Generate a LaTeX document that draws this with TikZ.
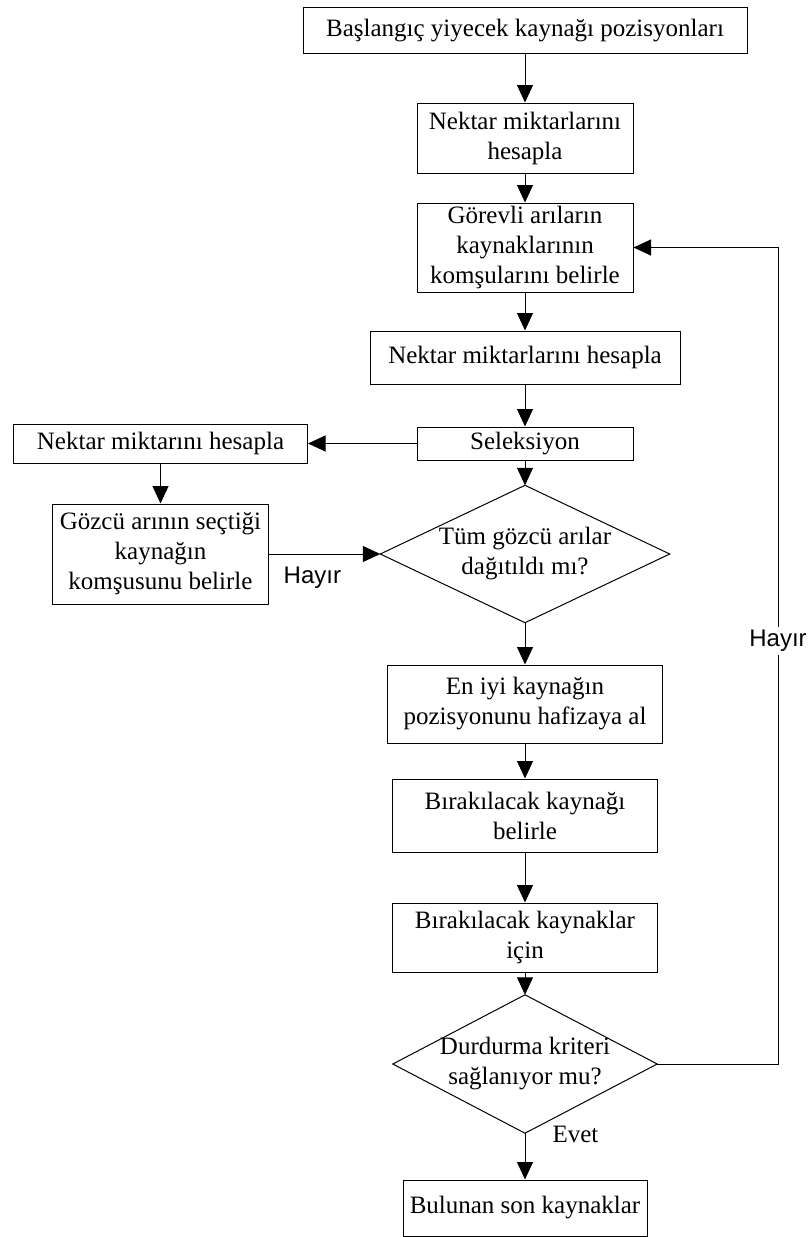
\documentclass[tikz,border=0pt]{standalone}
\usepackage{fontspec}
\setmainfont{Liberation Serif}
\newfontfamily\labelsans{Liberation Sans}
\usetikzlibrary{arrows.meta}
\begin{document}
\begin{tikzpicture}[x=1pt,y=-1pt,
  font=\fontsize{25}{30}\selectfont,
  box/.style={draw=black, line width=1pt, inner sep=0pt, align=center},
  dec/.style={inner sep=0pt, align=center},
  arr/.style={line width=1pt, -{Triangle[length=17.5pt,width=16pt]}},
  lbl/.style={font=\labelsans\fontsize{24}{28}\selectfont, inner sep=0pt}]
\useasboundingbox (0,0) rectangle (811,1237);

% boxes
\node[box, minimum width=444pt, minimum height=45.5pt] (start) at (525,30.3) {Başlangıç yiyecek kaynağı pozisyonları};
\node[box, minimum width=216pt, minimum height=70pt] (nek1) at (525,138) {Nektar miktarlarını\\hesapla};
\node[box, minimum width=216pt, minimum height=89pt] (gorev) at (525,247.5) {Görevli arıların\\kaynaklarının\\komşularını belirle};
\node[box, minimum width=310pt, minimum height=53pt] (nek2) at (525,357.5) {Nektar miktarlarını hesapla};
\node[box, minimum width=216pt, minimum height=33pt] (sel) at (525,443.5) {Seleksiyon};
\node[box, minimum width=294pt, minimum height=39pt] (nek3) at (160.5,443.5) {Nektar miktarını hesapla};
\node[box, minimum width=216pt, minimum height=100pt] (gozcu) at (160.5,554) {Gözcü arının seçtiği\\kaynağın\\komşusunu belirle};
\node[dec, minimum width=289pt, minimum height=137pt] (d1) at (525,554) {Tüm gözcü arılar\\dağıtıldı mı?};
\draw[line width=1pt] (d1.north) -- (d1.east) -- (d1.south) -- (d1.west) -- cycle;
\node[box, minimum width=275pt, minimum height=78pt] (eniyi) at (525,704) {En iyi kaynağın\\pozisyonunu hafizaya al};
\node[box, minimum width=265pt, minimum height=73pt] (birak1) at (525,815.5) {Bırakılacak kaynağı\\belirle};
\node[box, minimum width=265pt, minimum height=69pt] (birak2) at (525,937.5) {Bırakılacak kaynaklar\\için};
\node[dec, minimum width=264pt, minimum height=138pt] (d2) at (525,1064) {Durdurma kriteri\\sağlanıyor mu?};
\draw[line width=1pt] (d2.north) -- (d2.east) -- (d2.south) -- (d2.west) -- cycle;
\node[box, minimum width=244pt, minimum height=56pt] (final) at (525,1208) {Bulunan son kaynaklar};

% connectors
\draw[arr] (start) -- (nek1);
\draw[arr] (nek1) -- (gorev);
\draw[arr] (gorev) -- (nek2);
\draw[arr] (nek2) -- (sel);
\draw[arr] (sel.west) -- (nek3.east);
\draw[arr] (nek3) -- (gozcu);
\draw[arr] (gozcu.east) -- node[lbl, pos=0.39, anchor=north, yshift=-12pt] {Hayır} (d1.west);
\draw[arr] (sel) -- (d1.north);
\draw[arr] (d1.south) -- (eniyi);
\draw[arr] (eniyi) -- (birak1);
\draw[arr] (birak1) -- (birak2);
\draw[arr] (birak2) -- (d2.north);
\coordinate (rc) at (778,1064);
\draw[arr] (d2.east) -- (rc) -- node[lbl, fill=white, inner sep=3pt, pos=0.518] {Hayır} (rc |- gorev.east) -- (gorev.east);
\draw[arr] (d2.south) -- node[pos=0.02, anchor=west, xshift=27pt, inner sep=0pt] {Evet} (final);
\end{tikzpicture}
\end{document}
